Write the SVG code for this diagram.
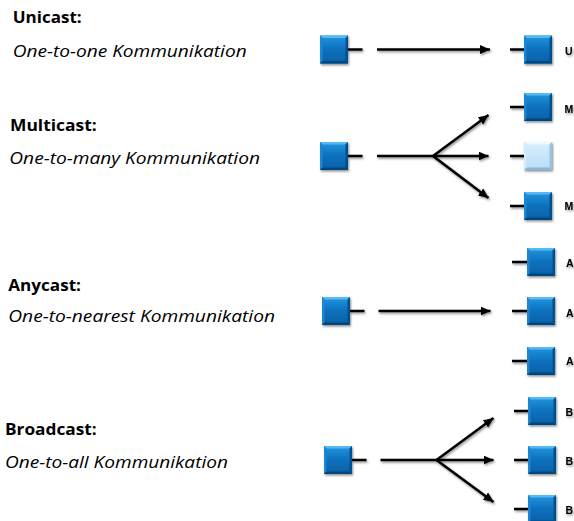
<svg xmlns="http://www.w3.org/2000/svg" xmlns:xlink="http://www.w3.org/1999/xlink" width="574" height="521" viewBox="0 0 574 521">
<defs>
<style>
.h{font-family:"Open Sans","Liberation Sans",sans-serif;font-weight:bold;font-size:16px;fill:#000;font-variant-ligatures:none}
.d{font-family:"Open Sans","Liberation Sans",sans-serif;font-style:italic;font-size:16.5px;fill:#000;font-variant-ligatures:none}
.l{font-family:"Liberation Sans",Arial,sans-serif;font-weight:bold;font-size:10.5px;fill:#000}
.ln{stroke:#000;stroke-width:2.5;fill:none;stroke-linecap:butt}
.ar{stroke:#000;stroke-width:2.5;fill:none;marker-end:url(#ah)}
</style>
<filter id="sh" x="-30%" y="-30%" width="160%" height="160%">
<feDropShadow dx="1" dy="1.5" stdDeviation="1.2" flood-color="#000" flood-opacity="0.45"/>
</filter>
<marker id="ah" markerUnits="userSpaceOnUse" markerWidth="11" markerHeight="10" refX="10" refY="4.5" orient="auto">
<path d="M0,0 L10,4.5 L0,9 z" fill="#000"/>
</marker>
<linearGradient id="gb" x1="0" y1="0" x2="0" y2="1">
<stop offset="0" stop-color="#2496de"/>
<stop offset="0.5" stop-color="#0b70bd"/>
<stop offset="1" stop-color="#0560a6"/>
</linearGradient>
<linearGradient id="gl" x1="0" y1="0" x2="0" y2="1">
<stop offset="0" stop-color="#d6eefd"/>
<stop offset="1" stop-color="#b9ddf6"/>
</linearGradient>
<g id="sq">
<rect x="0" y="0" width="28" height="28" fill="url(#gb)"/>
<polygon points="0,0 28,0 25.5,2.5 2.5,2.5" fill="#55baf4"/>
<polygon points="0,0 2.5,2.5 2.5,25.5 0,28" fill="#1a86d2"/>
<polygon points="28,0 28,28 25.5,25.5 25.5,2.5" fill="#04508f"/>
<polygon points="0,28 2.5,25.5 25.5,25.5 28,28" fill="#03467e"/>
</g>
<g id="sqL">
<rect x="0" y="0" width="28" height="28" fill="url(#gl)"/>
<polygon points="0,0 28,0 25.5,2.5 2.5,2.5" fill="#eef8ff"/>
<polygon points="0,0 2.5,2.5 2.5,25.5 0,28" fill="#d2ecfc"/>
<polygon points="28,0 28,28 25.5,25.5 25.5,2.5" fill="#94c3e4"/>
<polygon points="0,28 2.5,25.5 25.5,25.5 28,28" fill="#88b8da"/>
</g>
</defs>
<rect width="574" height="521" fill="#fff"/>

<g id="titles">
<text class="h" x="12.7" y="22.7" textLength="69" lengthAdjust="spacingAndGlyphs">Unicast:</text>
<text class="d" x="12.7" y="56.7" textLength="234" lengthAdjust="spacingAndGlyphs">One-to-one Kommunikation</text>
<text class="h" x="10" y="130.7" textLength="86.7" lengthAdjust="spacingAndGlyphs">Multicast:</text>
<text class="d" x="9.3" y="164" textLength="250.7" lengthAdjust="spacingAndGlyphs">One-to-many Kommunikation</text>
<text class="h" x="8.3" y="290.7" textLength="72.7" lengthAdjust="spacingAndGlyphs">Anycast:</text>
<text class="d" x="8.3" y="321.7" textLength="266.7" lengthAdjust="spacingAndGlyphs">One-to-nearest Kommunikation</text>
<text class="h" x="5" y="435" textLength="91.7" lengthAdjust="spacingAndGlyphs">Broadcast:</text>
<text class="d" x="5" y="467.5" textLength="223" lengthAdjust="spacingAndGlyphs">One-to-all Kommunikation</text>
</g>

<g id="connectors" filter="url(#sh)">
<line class="ln" x1="348" y1="49.5" x2="362.5" y2="49.5"/>
<line class="ar" x1="377" y1="49.5" x2="490" y2="49.5"/>
<line class="ln" x1="510" y1="49.5" x2="524" y2="49.5"/>
<line class="ln" x1="348" y1="156" x2="362.5" y2="156"/>
<line class="ln" x1="377" y1="156" x2="434" y2="156"/>
<line class="ar" x1="433" y1="156" x2="488.5" y2="115"/>
<line class="ar" x1="433" y1="156" x2="488.5" y2="156"/>
<line class="ar" x1="433" y1="156" x2="488.5" y2="198"/>
<line class="ln" x1="510" y1="107" x2="524" y2="107"/>
<line class="ln" x1="510" y1="156" x2="524" y2="156"/>
<line class="ln" x1="510" y1="206" x2="524" y2="206"/>
<line class="ln" x1="350" y1="311" x2="364.5" y2="311"/>
<line class="ar" x1="378.5" y1="311" x2="490.5" y2="311"/>
<line class="ln" x1="512" y1="262" x2="527" y2="262"/>
<line class="ln" x1="512" y1="311" x2="527" y2="311"/>
<line class="ln" x1="512" y1="361" x2="527" y2="361"/>
<line class="ln" x1="352" y1="460" x2="366.5" y2="460"/>
<line class="ln" x1="380.5" y1="460" x2="437.5" y2="460"/>
<line class="ar" x1="436.5" y1="460" x2="493.5" y2="418"/>
<line class="ar" x1="436.5" y1="460" x2="493.5" y2="460"/>
<line class="ar" x1="436.5" y1="460" x2="493.5" y2="502"/>
<line class="ln" x1="514" y1="411" x2="528" y2="411"/>
<line class="ln" x1="514" y1="460" x2="528" y2="460"/>
<line class="ln" x1="514" y1="509" x2="528" y2="509"/>
</g>

<g id="uni-src" filter="url(#sh)"><use xlink:href="#sq" x="320" y="35.5"/></g>
<g id="uni-dst" filter="url(#sh)"><use xlink:href="#sq" x="524" y="35.5"/><text class="l" x="565" y="55">U</text></g>

<g id="multi-src" filter="url(#sh)"><use xlink:href="#sq" x="320" y="142"/></g>
<g id="multi-dst1" filter="url(#sh)"><use xlink:href="#sq" x="524" y="93"/><text class="l" x="564.5" y="112.5">M</text></g>
<g id="multi-dst2" filter="url(#sh)"><use xlink:href="#sqL" x="524" y="142"/></g>
<g id="multi-dst3" filter="url(#sh)"><use xlink:href="#sq" x="524" y="192"/><text class="l" x="564.5" y="210">M</text></g>

<g id="any-src" filter="url(#sh)"><use xlink:href="#sq" x="322" y="297"/></g>
<g id="any-dst1" filter="url(#sh)"><use xlink:href="#sq" x="527" y="248"/><text class="l" x="566" y="266.5">A</text></g>
<g id="any-dst2" filter="url(#sh)"><use xlink:href="#sq" x="527" y="297"/><text class="l" x="566" y="316.5">A</text></g>
<g id="any-dst3" filter="url(#sh)"><use xlink:href="#sq" x="527" y="347"/><text class="l" x="566" y="365">A</text></g>

<g id="broad-src" filter="url(#sh)"><use xlink:href="#sq" x="324" y="446"/></g>
<g id="broad-dst1" filter="url(#sh)"><use xlink:href="#sq" x="528" y="397"/><text class="l" x="565.5" y="416">B</text></g>
<g id="broad-dst2" filter="url(#sh)"><use xlink:href="#sq" x="528" y="446"/><text class="l" x="565.5" y="465">B</text></g>
<g id="broad-dst3" filter="url(#sh)"><use xlink:href="#sq" x="528" y="495"/><text class="l" x="565.5" y="514">B</text></g>
</svg>
